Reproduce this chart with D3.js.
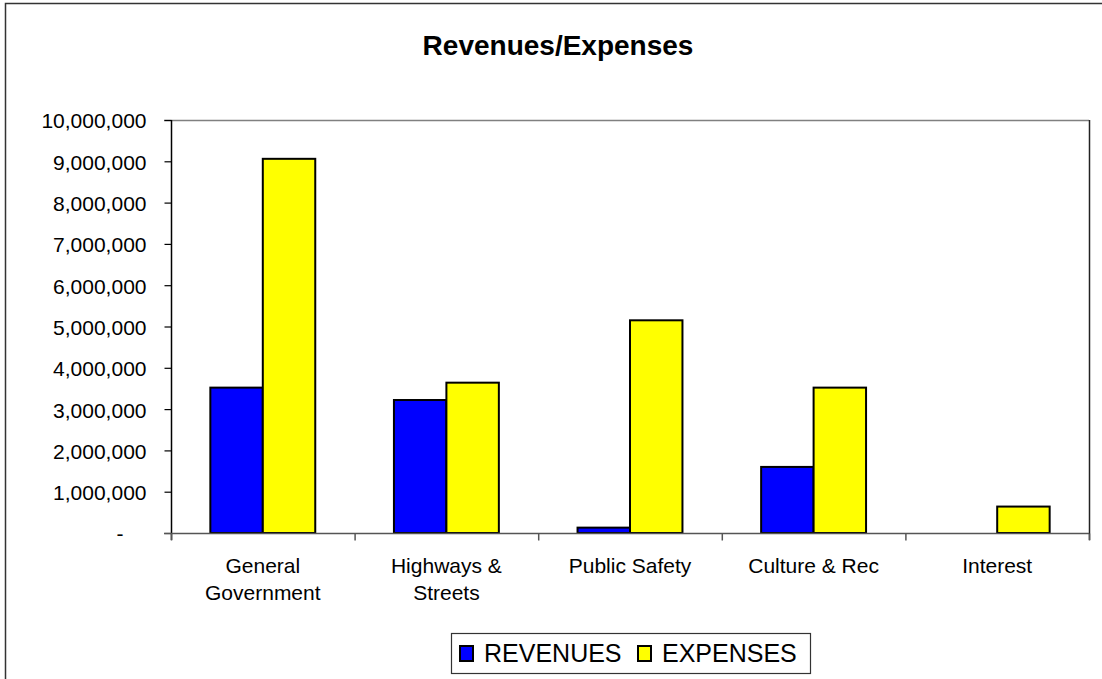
<!DOCTYPE html>
<html>
<head>
<meta charset="utf-8">
<script src="https://cdn.jsdelivr.net/npm/d3@7"></script>
<style>
  html, body { margin: 0; padding: 0; background: #fff; }
  svg { display: block; font-family: "Liberation Sans", Arial, sans-serif; }
</style>
</head>
<body>
<svg id="chart" width="1102" height="679"></svg>
<script>
const categories = [["General", "Government"], ["Highways &", "Streets"], ["Public Safety"], ["Culture & Rec"], ["Interest"]];
const categoryKeys = ["General Government", "Highways & Streets", "Public Safety", "Culture & Rec", "Interest"];
const seriesNames = ["REVENUES", "EXPENSES"];
const revenues = [3520000, 3220000, 130000, 1600000, 0];
const expenses = [9060000, 3640000, 5150000, 3520000, 640000];
const yTicks = [0, 1000000, 2000000, 3000000, 4000000, 5000000, 6000000, 7000000, 8000000, 9000000, 10000000];
const colors = ["#0000FF", "#FFFF00"];
const titleText = "Revenues/Expenses";

const svg = d3.select("#chart");
const W = 1102, H = 679;
const plot = { left: 171, right: 1089, top: 120, bottom: 533 };

// outer chart border (extends beyond the viewport on right/bottom)
svg.append("rect")
  .attr("x", 5.5).attr("y", 3.5)
  .attr("width", 1110).attr("height", 700)
  .attr("fill", "#fff").attr("stroke", "#333").attr("stroke-width", 1.5);

// title
svg.append("text")
  .attr("x", 558).attr("y", 55)
  .attr("text-anchor", "middle")
  .attr("font-size", 28).attr("font-weight", "bold")
  .attr("fill", "#000")
  .text(titleText);

const y = d3.scaleLinear().domain([0, 10000000]).range([plot.bottom, plot.top]);
const x0 = d3.scaleBand().domain(categoryKeys).range([plot.left, plot.right]).padding(0);
const x1 = d3.scaleBand().domain(seriesNames).range([0, x0.bandwidth()])
  .paddingInner(0).paddingOuter(0.75);

// plot area border: top grey, right dark
svg.append("line")
  .attr("x1", plot.left - 7).attr("x2", plot.right)
  .attr("y1", plot.top + 0.5).attr("y2", plot.top + 0.5)
  .attr("stroke", "#808080").attr("stroke-width", 1.5);
svg.append("line")
  .attr("x1", plot.right + 0.5).attr("x2", plot.right + 0.5)
  .attr("y1", plot.top).attr("y2", plot.bottom + 7)
  .attr("stroke", "#222").attr("stroke-width", 1.5);

// bars
const data = categoryKeys.map((c, i) => ({ cat: c, vals: [revenues[i], expenses[i]] }));
const groups = svg.append("g").selectAll("g").data(data).join("g")
  .attr("transform", d => `translate(${x0(d.cat)},0)`);
groups.selectAll("rect")
  .data(d => d.vals.map((v, j) => ({ name: seriesNames[j], v, j })).filter(e => e.v > 0))
  .join("rect")
  .attr("x", e => x1(e.name))
  .attr("y", e => y(e.v))
  .attr("width", x1.bandwidth())
  .attr("height", e => y(0) - y(e.v))
  .attr("fill", e => colors[e.j])
  .attr("stroke", "#000").attr("stroke-width", 2);

// y axis
const yAxis = d3.axisLeft(y).tickValues(yTicks).tickSize(7).tickPadding(18)
  .tickFormat(d => d === 0 ? "-" : d3.format(",")(d));
const yg = svg.append("g").attr("transform", `translate(${plot.left + 0.5},0)`).call(yAxis);
yg.select(".domain").attr("stroke", "#000").attr("stroke-width", 1.5)
  .attr("d", `M0,${plot.top}V${plot.bottom + 7}`);
yg.selectAll(".tick line").attr("stroke", "#000").attr("stroke-width", 1.2);
yg.selectAll(".tick text")
  .attr("font-size", 21).attr("font-family", "Liberation Sans, Arial, sans-serif")
  .attr("fill", "#000").attr("dy", "0.38em")
  .attr("dx", d => d === 0 ? -23 : 0);

// x axis
const xAxis = d3.axisBottom(x0).tickSize(0).tickFormat("");
const xg = svg.append("g").attr("transform", `translate(0,${plot.bottom + 0.5})`).call(xAxis);
xg.select(".domain").attr("stroke", "#555").attr("stroke-width", 1.5)
  .attr("d", `M${plot.left - 7},0H${plot.right}`);
// category boundary ticks
const boundaries = categoryKeys.map(c => x0(c)).concat([plot.right]);
xg.selectAll(".btick").data(boundaries).join("line")
  .attr("class", "btick")
  .attr("x1", d => d + 0.5).attr("x2", d => d + 0.5)
  .attr("y1", 0).attr("y2", 7)
  .attr("stroke", "#555").attr("stroke-width", 1.5);
// category labels
const labels = svg.append("g").selectAll("text").data(categoryKeys).join("text")
  .attr("x", d => x0(d) + x0.bandwidth() / 2)
  .attr("y", 573)
  .attr("text-anchor", "middle")
  .attr("font-size", 21).attr("fill", "#000");
labels.each(function (d, i) {
  const t = d3.select(this);
  categories[i].forEach((line, k) => {
    t.append("tspan").attr("x", x0(d) + x0.bandwidth() / 2).attr("dy", k === 0 ? 0 : 27).text(line);
  });
});

// legend
const lg = svg.append("g");
lg.append("rect")
  .attr("x", 451.5).attr("y", 633.5).attr("width", 359).attr("height", 40)
  .attr("fill", "#fff").attr("stroke", "#333").attr("stroke-width", 1.2);
const legendX = [459, 637];
seriesNames.forEach((name, j) => {
  lg.append("rect")
    .attr("x", legendX[j] + 1).attr("y", 646)
    .attr("width", 13).attr("height", 15)
    .attr("fill", colors[j]).attr("stroke", "#000").attr("stroke-width", 2);
  lg.append("text")
    .attr("x", legendX[j] + 25).attr("y", 662)
    .attr("font-size", 25).attr("fill", "#000")
    .text(name);
});
</script>
</body>
</html>
